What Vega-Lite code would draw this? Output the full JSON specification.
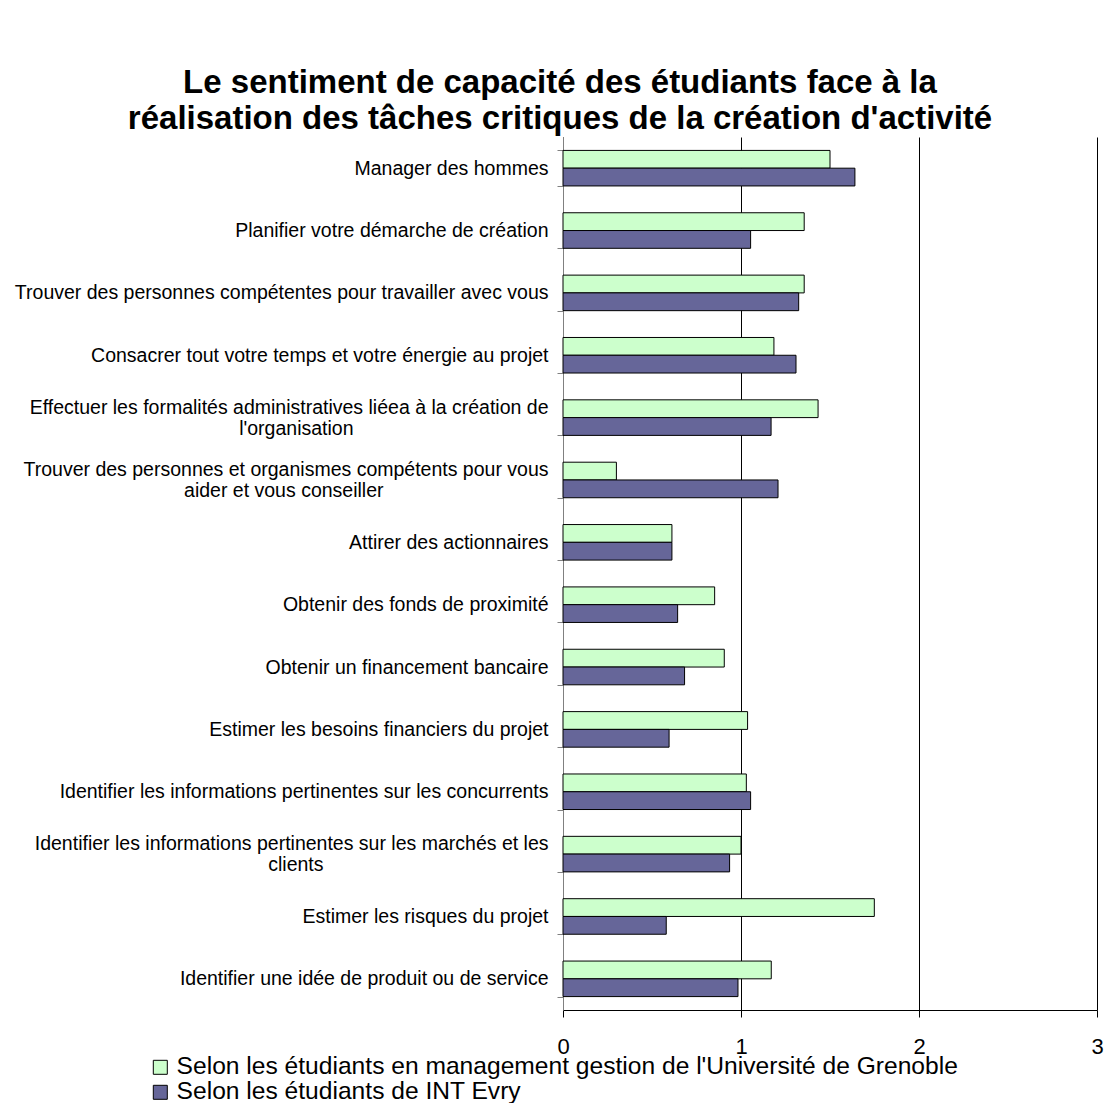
{
  "$schema": "https://vega.github.io/schema/vega-lite/v6.json",
  "autosize": "none",
  "width": 534,
  "height": 873,
  "padding": {"left": 563, "top": 137, "right": 18, "bottom": 93},
  "background": "white",
  "title": {
    "text": ["Le sentiment de capacité des étudiants face à la", "réalisation des tâches critiques de la création d'activité"],
    "font": "Liberation Sans",
    "fontSize": 33,
    "fontWeight": "bold",
    "color": "black",
    "anchor": "middle",
    "frame": "group",
    "dx": -270,
    "offset": -9,
    "lineHeight": 36
  },
  "data": {
    "values": [
      {"task": "Manager des hommes", "series": "Selon les étudiants en management gestion de l'Université de Grenoble", "value": 1.50},
      {"task": "Manager des hommes", "series": "Selon les étudiants de INT Evry", "value": 1.64},
      {"task": "Planifier votre démarche de création", "series": "Selon les étudiants en management gestion de l'Université de Grenoble", "value": 1.355},
      {"task": "Planifier votre démarche de création", "series": "Selon les étudiants de INT Evry", "value": 1.054},
      {"task": "Trouver des personnes compétentes pour travailler avec vous", "series": "Selon les étudiants en management gestion de l'Université de Grenoble", "value": 1.355},
      {"task": "Trouver des personnes compétentes pour travailler avec vous", "series": "Selon les étudiants de INT Evry", "value": 1.324},
      {"task": "Consacrer tout votre temps et votre énergie au projet", "series": "Selon les étudiants en management gestion de l'Université de Grenoble", "value": 1.185},
      {"task": "Consacrer tout votre temps et votre énergie au projet", "series": "Selon les étudiants de INT Evry", "value": 1.309},
      {"task": "Effectuer les formalités administratives liéea à la création de|l'organisation", "series": "Selon les étudiants en management gestion de l'Université de Grenoble", "value": 1.433},
      {"task": "Effectuer les formalités administratives liéea à la création de|l'organisation", "series": "Selon les étudiants de INT Evry", "value": 1.169},
      {"task": "Trouver des personnes et organismes compétents pour vous|aider et vous conseiller", "series": "Selon les étudiants en management gestion de l'Université de Grenoble", "value": 0.30},
      {"task": "Trouver des personnes et organismes compétents pour vous|aider et vous conseiller", "series": "Selon les étudiants de INT Evry", "value": 1.208},
      {"task": "Attirer des actionnaires", "series": "Selon les étudiants en management gestion de l'Université de Grenoble", "value": 0.612},
      {"task": "Attirer des actionnaires", "series": "Selon les étudiants de INT Evry", "value": 0.612},
      {"task": "Obtenir des fonds de proximité", "series": "Selon les étudiants en management gestion de l'Université de Grenoble", "value": 0.852},
      {"task": "Obtenir des fonds de proximité", "series": "Selon les étudiants de INT Evry", "value": 0.644},
      {"task": "Obtenir un financement bancaire", "series": "Selon les étudiants en management gestion de l'Université de Grenoble", "value": 0.906},
      {"task": "Obtenir un financement bancaire", "series": "Selon les étudiants de INT Evry", "value": 0.683},
      {"task": "Estimer les besoins financiers du projet", "series": "Selon les étudiants en management gestion de l'Université de Grenoble", "value": 1.037},
      {"task": "Estimer les besoins financiers du projet", "series": "Selon les étudiants de INT Evry", "value": 0.596},
      {"task": "Identifier les informations pertinentes sur les concurrents", "series": "Selon les étudiants en management gestion de l'Université de Grenoble", "value": 1.030},
      {"task": "Identifier les informations pertinentes sur les concurrents", "series": "Selon les étudiants de INT Evry", "value": 1.054},
      {"task": "Identifier les informations pertinentes sur les marchés et les|clients", "series": "Selon les étudiants en management gestion de l'Université de Grenoble", "value": 1.0},
      {"task": "Identifier les informations pertinentes sur les marchés et les|clients", "series": "Selon les étudiants de INT Evry", "value": 0.936},
      {"task": "Estimer les risques du projet", "series": "Selon les étudiants en management gestion de l'Université de Grenoble", "value": 1.749},
      {"task": "Estimer les risques du projet", "series": "Selon les étudiants de INT Evry", "value": 0.580},
      {"task": "Identifier une idée de produit ou de service", "series": "Selon les étudiants en management gestion de l'Université de Grenoble", "value": 1.170},
      {"task": "Identifier une idée de produit ou de service", "series": "Selon les étudiants de INT Evry", "value": 0.983}
    ]
  },
  "mark": {"type": "bar", "stroke": "black", "strokeWidth": 1},
  "encoding": {
    "y": {
      "field": "task",
      "type": "nominal",
      "sort": null,
      "scale": {"paddingInner": 0.43, "paddingOuter": 0.215},
      "axis": {
        "title": null,
        "tickBand": "extent",
        "tickSize": 6,
        "tickColor": "#808080",
        "domainColor": "#808080",
        "labelFont": "Liberation Sans",
        "labelFontSize": 19.5,
        "labelColor": "black",
        "labelLimit": 700,
        "labelLineHeight": 10.5,
        "labelAlign": "right",
        "labelPadding": 9,
        "labelOffset": -10.5,
        "labelExpr": "indexof(datum.label, '|') >= 0 ? [split(datum.label, '|')[0], '\u2800', split(datum.label, '|')[1] + (indexof(datum.label, 'organisation') >= 0 ? '\u2800\u2800\u2800\u2800\u2800\u2800\u2800\u2800\u2800\u2800\u2800\u2800\u2800' : (indexof(datum.label, 'conseiller') >= 0 ? '\u2800\u2800\u2800\u2800\u2800\u2800\u2800\u2800\u2800\u2800\u2800' : '\u2800\u2800\u2800\u2800\u2800\u2800\u2800\u2800\u2800\u2800\u2800\u2800\u2800\u2800\u2800'))] : ['\u00a0', datum.label]",
        "grid": false
      }
    },
    "yOffset": {
      "field": "series",
      "type": "nominal",
      "sort": ["Selon les étudiants en management gestion de l'Université de Grenoble", "Selon les étudiants de INT Evry"],
      "scale": {"paddingInner": 0, "paddingOuter": 0}
    },
    "x": {
      "field": "value",
      "type": "quantitative",
      "scale": {"domain": [0, 3], "nice": false},
      "axis": {
        "title": null,
        "values": [0, 1, 2, 3],
        "grid": true,
        "gridColor": "black",
        "gridOpacity": 1,
        "gridWidth": 1,
        "domainColor": "black",
        "tickColor": "black",
        "tickSize": 7,
        "labelFont": "Liberation Sans",
        "labelFontSize": 22,
        "labelColor": "black",
        "labelPadding": 19,
        "labelFlush": false
      }
    },
    "color": {
      "field": "series",
      "type": "nominal",
      "sort": ["Selon les étudiants en management gestion de l'Université de Grenoble", "Selon les étudiants de INT Evry"],
      "scale": {"range": ["#CCFFCC", "#666699"]},
      "legend": {
        "title": null,
        "orient": "none",
        "legendX": -415,
        "legendY": 918,
        "symbolType": "square",
        "symbolSize": 196,
        "symbolStrokeColor": "black",
        "symbolStrokeWidth": 1,
        "labelFont": "Liberation Sans",
        "labelFontSize": 24.6,
        "labelColor": "black",
        "labelLimit": 1000,
        "rowPadding": 0,
        "labelOffset": 4
      }
    }
  },
  "config": {"view": {"stroke": null}}
}
